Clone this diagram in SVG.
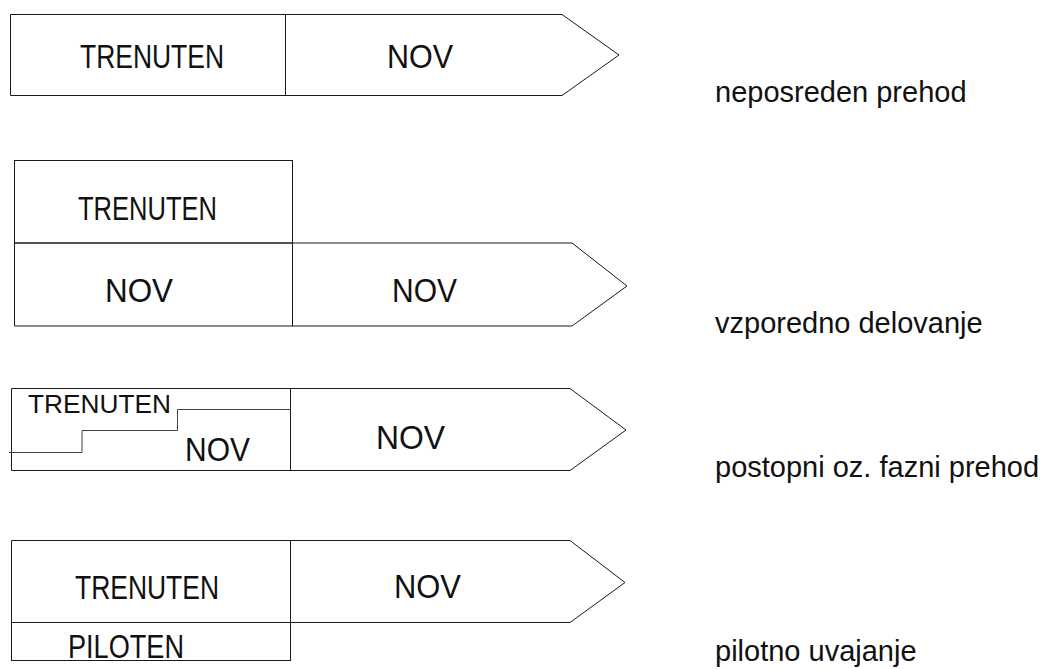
<svg xmlns="http://www.w3.org/2000/svg" width="1045" height="669" viewBox="0 0 1045 669">
  <style>
    .shape { fill: none; stroke: #1a1a1a; stroke-width: 1; }
    .step { fill: none; stroke: #444; stroke-width: 1; }
    .box { font-family: "Liberation Sans", Arial, sans-serif; font-size: 33px; fill: #111; }
    .small { font-size: 26px; }
    .label { font-family: "Liberation Sans", Arial, sans-serif; font-size: 29px; fill: #111; }
  </style>
  <rect width="1045" height="669" fill="#fff"/>

  <!-- Row 1: direct changeover -->
  <g id="row-direct">
    <path class="shape" d="M10.5,14.5 H562 L619,55 L562,95.5 H10.5 Z"/>
    <line class="shape" x1="285.5" y1="14.5" x2="285.5" y2="95.5"/>
    <text class="box" x="80" y="68" textLength="144" lengthAdjust="spacingAndGlyphs">TRENUTEN</text>
    <text class="box" x="387" y="68" textLength="66" lengthAdjust="spacingAndGlyphs">NOV</text>
    <text class="label" x="715" y="102">neposreden prehod</text>
  </g>

  <!-- Row 2: parallel running -->
  <g id="row-parallel">
    <rect class="shape" x="14.5" y="160.5" width="278" height="82.5"/>
    <path class="shape" d="M14.5,243 H572 L627,286 L572,326 H14.5 Z"/>
    <line class="shape" x1="292.5" y1="243" x2="292.5" y2="326"/>
    <text class="box" x="78" y="220" textLength="139" lengthAdjust="spacingAndGlyphs">TRENUTEN</text>
    <text class="box" x="105" y="302" textLength="68" lengthAdjust="spacingAndGlyphs">NOV</text>
    <text class="box" x="392" y="302" textLength="65" lengthAdjust="spacingAndGlyphs">NOV</text>
    <text class="label" x="715" y="333">vzporedno delovanje</text>
  </g>

  <!-- Row 3: phased changeover -->
  <g id="row-phased">
    <path class="shape" d="M11.5,388.5 H570 L626,430 L570,470.5 H11.5 Z"/>
    <line class="shape" x1="290.5" y1="388.5" x2="290.5" y2="470.5"/>
    <polyline class="step" points="9,452.5 82,452.5 82,430.5 177.5,430.5 177.5,409.5 290.5,409.5"/>
    <text class="box small" x="28" y="413" textLength="143" lengthAdjust="spacingAndGlyphs">TRENUTEN</text>
    <text class="box" x="185" y="461" textLength="65" lengthAdjust="spacingAndGlyphs">NOV</text>
    <text class="box" x="376" y="449" textLength="69" lengthAdjust="spacingAndGlyphs">NOV</text>
    <text class="label" x="715" y="477">postopni oz. fazni prehod</text>
  </g>

  <!-- Row 4: pilot introduction -->
  <g id="row-pilot">
    <path class="shape" d="M11.5,540.5 H570 L625,582.5 L570,622.5 H11.5 Z"/>
    <rect class="shape" x="11.5" y="622.5" width="279" height="38"/>
    <line class="shape" x1="290.5" y1="540.5" x2="290.5" y2="622.5"/>
    <text class="box" x="75" y="599" textLength="144" lengthAdjust="spacingAndGlyphs">TRENUTEN</text>
    <text class="box" x="68" y="658" textLength="116" lengthAdjust="spacingAndGlyphs">PILOTEN</text>
    <text class="box" x="394" y="598" textLength="67" lengthAdjust="spacingAndGlyphs">NOV</text>
    <text class="label" x="715" y="661">pilotno uvajanje</text>
  </g>
</svg>
